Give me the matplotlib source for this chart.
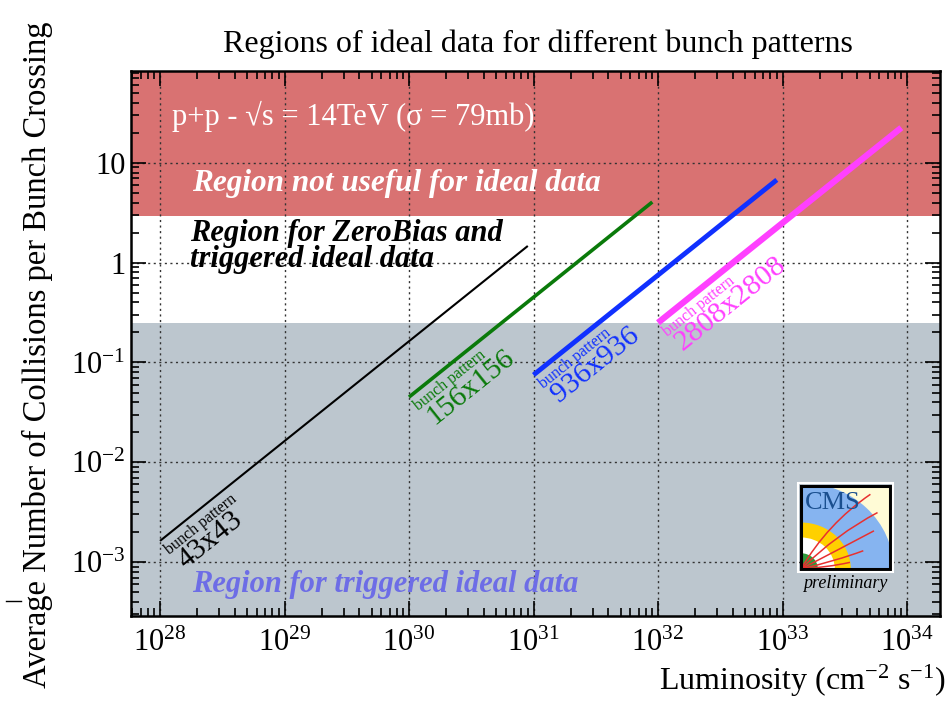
import numpy as np
import matplotlib
matplotlib.use("Agg")
import matplotlib.pyplot as plt
from matplotlib.ticker import FixedLocator, FixedFormatter, LogLocator, NullFormatter
from matplotlib.patches import Rectangle, Wedge, PathPatch
from matplotlib.path import Path
from matplotlib.lines import Line2D

plt.rcParams['font.family'] = ['Liberation Serif', 'DejaVu Serif']
plt.rcParams['mathtext.fontset'] = 'custom'
plt.rcParams['mathtext.rm'] = 'Liberation Serif'
plt.rcParams['mathtext.it'] = 'Liberation Serif:italic'

# bunch patterns: luminosity range and pileup at the ends (sigma = 79 mb)
patterns = ['43x43', '156x156', '936x936', '2808x2808']
lumi_start = [1e28, 1e30, 1e31, 1e32]
lumi_end = [9e30, 9e31, 9e32, 9e33]
mu_start = [1.63e-3, 0.045, 0.075, 0.25]
mu_end = [1.47, 4.05, 6.75, 22.5]
colors = ['black', '#0a7a0a', '#1030ff', '#ff40ff']
widths = [1.5, 2.6, 3.5, 4.5]

# region limits in mu
mu_top = 2.9
mu_low = 0.25

x_ticks = [1e28, 1e29, 1e30, 1e31, 1e32, 1e33, 1e34]
x_labels = ['$10^{28}$', '$10^{29}$', '$10^{30}$', '$10^{31}$',
            '$10^{32}$', '$10^{33}$', '$10^{34}$']
y_ticks = [1e-3, 1e-2, 1e-1, 1, 10]
y_labels = ['$10^{-3}$', '$10^{-2}$', '$10^{-1}$', '1', '10']

fig = plt.figure(figsize=(9.49, 7.04), dpi=100)
ax = fig.add_axes([131/949, 1-616/704, (940-131)/949, (616-71)/704])
ax.set_xscale('log')
ax.set_yscale('log')
ax.set_xlim(10**27.767, 10**34.265)
ax.set_ylim(10**-3.54, 10**1.92)

# background regions
ax.axhspan(mu_top, 1e3, color='#d97272', zorder=0, lw=0)
ax.axhspan(mu_low, mu_top, color='white', zorder=0, lw=0)
ax.axhspan(1e-5, mu_low, color='#bcc6ce', zorder=0, lw=0)

ax.grid(True, which='major', ls=(0, (1.5, 2.5)), color='#333333', lw=1.0, zorder=1)

for name, x0, x1, y0, y1, c, w in zip(patterns, lumi_start, lumi_end,
                                       mu_start, mu_end, colors, widths):
    ax.plot([x0, x1], [y0, y1], color=c, lw=w, solid_capstyle='butt', zorder=3)
    ax.annotate('bunch pattern', xy=(x0, y0), xytext=(7, -10),
                textcoords='offset points', rotation=38.7,
                rotation_mode='anchor', ha='left', va='baseline',
                fontsize=11.5, color=c, zorder=4)
    ax.annotate(name, xy=(x0, y0), xytext=(18, -20),
                textcoords='offset points', rotation=38.7,
                rotation_mode='anchor', ha='left', va='baseline',
                fontsize=21.5, color=c, zorder=4)

ax.text(10**28.1, 10**1.46, 'p+p - \u221as = 14TeV (\u03c3 = 79mb)',
        color='white', fontsize=22, va='center', ha='left')
ax.text(10**28.26, 10**0.79, 'Region not useful for ideal data',
        color='white', fontsize=22.5, style='italic', weight='bold',
        va='center', ha='left')
ax.text(10**28.24, 10**0.16, 'Region for ZeroBias and\ntriggered ideal data',
        color='black', fontsize=22, style='italic', weight='bold',
        va='center', ha='left', linespacing=0.85)
ax.text(10**28.26, 10**-3.22, 'Region for triggered ideal data',
        color='#6d6de6', fontsize=22, style='italic', weight='bold',
        va='center', ha='left')

ax.xaxis.set_major_locator(FixedLocator(x_ticks))
ax.xaxis.set_major_formatter(FixedFormatter(x_labels))
ax.yaxis.set_major_locator(FixedLocator(y_ticks))
ax.yaxis.set_major_formatter(FixedFormatter(y_labels))
ax.xaxis.set_minor_locator(LogLocator(base=10, subs=np.arange(2, 10), numticks=20))
ax.yaxis.set_minor_locator(LogLocator(base=10, subs=np.arange(2, 10), numticks=20))
ax.xaxis.set_minor_formatter(NullFormatter())
ax.yaxis.set_minor_formatter(NullFormatter())
ax.tick_params(which='both', direction='in', top=True, right=True,
               labelsize=22, width=1.2)
ax.tick_params(which='major', length=11)
ax.tick_params(which='minor', length=6)
ax.tick_params(axis='x', which='major', pad=9)
ax.tick_params(axis='y', which='major', pad=4)
for s in ax.spines.values():
    s.set_linewidth(1.8)

fig.text(538/949, 1-44/704, 'Regions of ideal data for different bunch patterns',
         ha='center', va='center', fontsize=23)
fig.text(37/949, 1-355/704, 'Average Number of Collisions per Bunch Crossing',
         rotation=90, ha='center', va='center', fontsize=23.5)
fig.text(946/949, 1-681/704, 'Luminosity (cm$^{-2}$ s$^{-1}$)',
         ha='right', va='center', fontsize=23)
fig.add_artist(Line2D([6/949, 21/949], [1-601/704, 1-601/704], color='black', lw=1))

# CMS preliminary logo
lx0, ly0, lw_, lh_ = 801/949, 1-569/704, 89/949, 83/704
lg = fig.add_axes([lx0, ly0, lw_, lh_])
lg.set_xlim(0, 1)
lg.set_ylim(0, 1)
lg.set_xticks([])
lg.set_yticks([])
lg.set_facecolor('#fffbd6')
lg.add_patch(Wedge((0, 0), 1.04, 0, 90, fc='#86b4f0', ec='none'))
lg.add_patch(Wedge((0, 0), 0.56, 0, 90, fc='#ffd000', ec='none'))
lg.add_patch(Wedge((0, 0), 0.38, 0, 90, fc='white', ec='none'))
lg.add_patch(Wedge((0, 0), 0.19, 0, 90, fc='#2e9a3a', ec='none'))
track_ends = [(0.78, 0.90), (0.86, 0.68), (0.82, 0.46), (0.70, 0.22), (0.55, 0.08)]
track_ctrl = [(0.30, 0.55), (0.40, 0.42), (0.45, 0.25), (0.40, 0.10), (0.30, 0.02)]
for (ex, ey), (cx, cy) in zip(track_ends, track_ctrl):
    p = Path([(0, 0), (cx, cy), (ex, ey)], [Path.MOVETO, Path.CURVE3, Path.CURVE3])
    lg.add_patch(PathPatch(p, fc='none', ec='#e83030', lw=1.1))
lg.text(0.04, 0.80, 'CMS', color='#1a4f8f', fontsize=19, va='center', ha='left')
for s in lg.spines.values():
    s.set_linewidth(2.2)
fig.add_artist(Rectangle((798/949, 1-572/704), 95/949, 89/704, fc='none',
                         ec='white', lw=1.5, transform=fig.transFigure))
fig.text(845/949, 1-583/704, 'preliminary', style='italic', fontsize=13,
         ha='center', va='center')

fig.savefig('out.png', dpi=100)
